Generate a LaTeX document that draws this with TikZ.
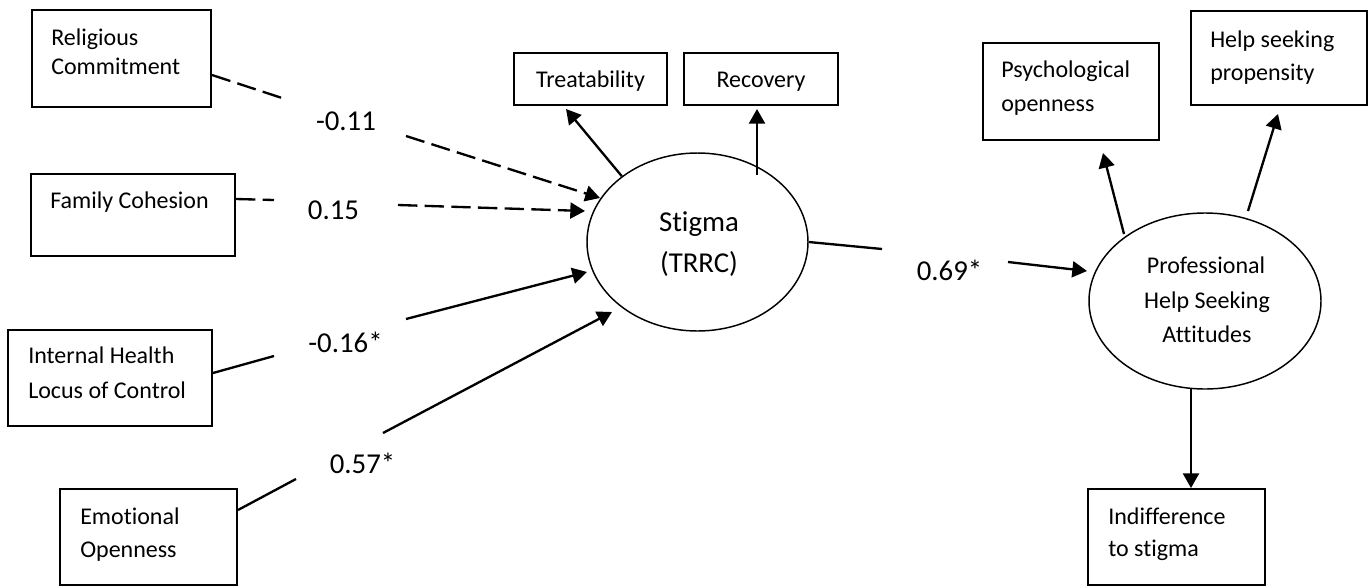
\documentclass[tikz,border=0pt]{standalone}
\usepackage{fontspec}
\setmainfont{Carlito}[Ligatures={NoCommon}]
\usetikzlibrary{arrows.meta,shapes.geometric,calc}
\begin{document}
\begin{tikzpicture}[x=0.75pt,y=-0.75pt,
  box/.style={draw,line width=1.5pt,rectangle,inner sep=0pt},
  lat/.style={draw,line width=1.1pt,ellipse,inner sep=0pt},
  btxt/.style={font=\fontsize{18}{21}\selectfont,inner sep=0pt},
  ctxt/.style={font=\fontsize{21.6}{26}\selectfont,inner sep=0pt},
  conn/.style={line width=1.75pt},
  arr/.style={conn,-{Triangle[length=11pt,width=12pt]}},
  dsh/.style={dash pattern=on 14.5pt off 5.5pt}
]
\useasboundingbox (0,0) rectangle (1372,586);

% boxes
\node[box,minimum width=134.25pt,minimum height=72.75pt] (relig) at (121.5,58.5) {};
\node[box,minimum width=153pt,minimum height=61.5pt] (family) at (133,215) {};
\node[box,minimum width=153pt,minimum height=72pt] (ihlc) at (110,378) {};
\node[box,minimum width=132.75pt,minimum height=72pt] (emot) at (148.5,537) {};
\node[box,minimum width=114.75pt,minimum height=39pt] (treat) at (590.5,79) {};
\node[box,minimum width=115.5pt,minimum height=39pt] (recov) at (761,79) {};
\node[box,minimum width=132pt,minimum height=72.75pt] (psych) at (1071,91.5) {};
\node[box,minimum width=132pt,minimum height=70.5pt] (helps) at (1279,58) {};
\node[box,minimum width=132.75pt,minimum height=72pt] (indiff) at (1176.5,537) {};

% latent variables
\node[lat,minimum width=165.75pt,minimum height=133.5pt] (stigma) at (697.5,242) {};
\node[lat,minimum width=174pt,minimum height=132pt] (phsa) at (1205,301) {};

% box texts
\node[btxt,anchor=base west] (trelA) at (51,45) {Religious};
\node[btxt,anchor=base west] (trelB) at (51,74) {Commitment};
\node[btxt,anchor=base west] (tfam) at (50,208) {Family Cohesion};
\node[btxt,anchor=base west] (tihA) at (28,363) {Internal Health};
\node[btxt,anchor=base west] (tihB) at (28,398) {Locus of Control};
\node[btxt,anchor=base west] (teoA) at (80,524) {Emotional};
\node[btxt,anchor=base west] (teoB) at (80,557) {Openness};
\node[btxt,anchor=base] (ttreat) at (590.5,87) {Treatability};
\node[btxt,anchor=base] (trecov) at (761,87) {Recovery};
\node[btxt,anchor=base west] (tpsA) at (1001,77) {Psychological};
\node[btxt,anchor=base west] (tpsB) at (1001,111) {openness};
\node[btxt,anchor=base west] (thsA) at (1210,47) {Help seeking};
\node[btxt,anchor=base west] (thsB) at (1210,80) {propensity};
\node[btxt,anchor=base west] (tinA) at (1108,524) {Indifference};
\node[btxt,anchor=base west] (tinB) at (1108,556) {to stigma};
\node[btxt,anchor=base] (tphA) at (1206,273) {Professional};
\node[btxt,anchor=base] (tphB) at (1207,308) {Help Seeking};
\node[btxt,anchor=base] (tphC) at (1207,342) {Attitudes};
\node[ctxt,anchor=base] (tstA) at (699,231) {Stigma};
\node[ctxt,anchor=base] (tstB) at (699,272) {(TRRC)};

% path coefficients
\node[ctxt,anchor=base] (lrc) at (346,130) {-0.11};
\node[ctxt,anchor=base] (lfc) at (333.5,219) {0.15};
\node[ctxt,anchor=base] (lih) at (345.5,352) {-0.16*};
\node[ctxt,anchor=base] (leo) at (362.5,473) {0.57*};
\node[ctxt,anchor=base] (lsp) at (949.5,280) {0.69*};

% gap coordinates
\coordinate (rcA) at (282,98);
\coordinate (rcB) at (406,136);
\coordinate (fcA) at (274,200);
\coordinate (fcB) at (398,205);
\coordinate (ihA) at (274,356);
\coordinate (ihB) at (406,319);
\coordinate (eoA) at (296,479);
\coordinate (eoB) at (383,433);
\coordinate (spA) at (882,249);
\coordinate (spB) at (1008,262);

% predictors -> stigma
\draw[conn,dsh] ($(relig.east)+(0,16.5)$) -- (rcA);
\draw[arr,dsh] (rcB) -- ($(stigma.center)+(-97.5,-44)$);
\draw[conn,dsh] ($(family.east)+(0,-16)$) -- (fcA);
\draw[arr,dsh] (fcB) -- ($(stigma.center)+(-112.5,-31)$);
\draw[conn] ($(ihlc.east)+(0,-5)$) -- (ihA);
\draw[arr] (ihB) -- ($(stigma.center)+(-110.5,30)$);
\draw[conn] ($(emot.east)+(0,-27)$) -- (eoA);
\draw[arr] (eoB) -- ($(stigma.center)+(-85.5,70)$);

% stigma indicators
\draw[arr] (stigma.139.6) -- ($(treat.south)+(-24.5,3)$);
\draw[arr] ($(stigma.center)+(59.5,-67)$) -- ($(recov.south)+(-4,3)$);

% stigma -> PHSA
\draw[conn] (stigma.east) -- (spA);
\draw[arr] (spB) -- ($(phsa.center)+(-118,-30)$);

% PHSA indicators
\draw[arr] ($(phsa.center)+(-81,-67)$) -- ($(psych.south)+(32,12)$);
\draw[arr] ($(phsa.center)+(43,-90)$) -- ($(helps.south)+(-1,8)$);
\draw[arr] ($(phsa.center)+(-14,87)$) -- ($(indiff.north)+(14.5,0)$);
\end{tikzpicture}
\end{document}
